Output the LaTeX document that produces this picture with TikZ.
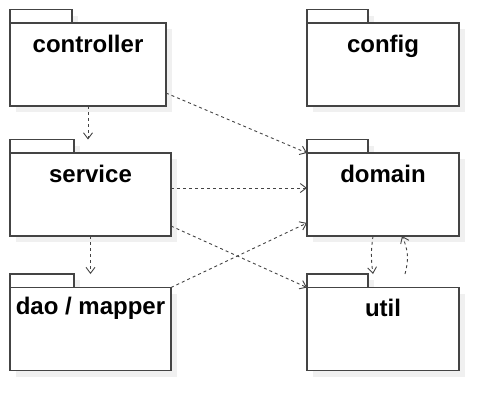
\documentclass[tikz,border=0pt]{standalone}
\usepackage{fontspec}
\setmainfont{Liberation Sans}
\usetikzlibrary{arrows.meta, positioning, shadows, calc}
\definecolor{pkgline}{RGB}{68,68,68}
\definecolor{pkgshadow}{RGB}{240,240,240}
\tikzset{
    pkg/.style={draw=pkgline, line width=1.4pt, fill=white, inner sep=0pt, outer sep=0pt,
        minimum height=83pt,
        drop shadow={shadow xshift=6pt, shadow yshift=-6pt, fill=pkgshadow, opacity=1}},
    pkgtab/.style={pkg, minimum height=13.5pt, anchor=south west},
    pkgname/.style={font=\bfseries\fontsize{24}{28}\selectfont, anchor=base, inner sep=0pt},
    dep/.style={draw=pkgline, line width=0.9pt, dash pattern=on 3pt off 3pt,
        -{Straight Barb[length=6pt,width=9pt]}}
}

\begin{document}
\begin{tikzpicture}[x=1pt, y=-1pt]
        \useasboundingbox (0,0) rectangle (499,410);

        \node[pkgtab, minimum width=62pt] (ctrltab) at (10,23) {};
        \node[pkg, minimum width=156pt, below right=0pt of ctrltab.south west] (ctrl) {};
        \node[pkgname] (ctrlname) at ([yshift=-29pt]ctrl.north) {controller};

        \node[pkgtab, minimum width=61pt] (cfgtab) at (307,23) {};
        \node[pkg, minimum width=152pt, below right=0pt of cfgtab.south west] (cfg) {};
        \node[pkgname] (cfgname) at ([yshift=-29pt]cfg.north) {config};

        \node[pkgtab, minimum width=64pt] (servtab) at (10,153) {};
        \node[pkg, minimum width=161pt, below right=0pt of servtab.south west] (serv) {};
        \node[pkgname] (servname) at ([yshift=-29pt]serv.north) {service};

        \node[pkgtab, minimum width=61pt] (domtab) at (307,153) {};
        \node[pkg, minimum width=152pt, below right=0pt of domtab.south west] (dom) {};
        \node[pkgname] (domname) at ([yshift=-29pt]dom.north) {domain};

        \node[pkgtab, minimum width=64pt] (daotab) at (10,287.5) {};
        \node[pkg, minimum width=161pt, below right=0pt of daotab.south west] (dao) {};
        \node[pkgname] (daoname) at ([yshift=-27pt]dao.north) {dao / mapper};

        \node[pkgtab, minimum width=61pt] (utiltab) at (307,287.5) {};
        \node[pkg, minimum width=152pt, below right=0pt of utiltab.south west] (util) {};
        \node[pkgname] (utilname) at ([yshift=-29pt]util.north) {util};

        \draw[dep] (ctrl.south) -- (ctrl.south |- servtab.north);
        \draw[dep] ([yshift=13pt]ctrl.south east) -- (dom.north west);
        \draw[dep] ([yshift=6.5pt]serv.east) -- ([yshift=6.5pt]dom.west);
        \draw[dep] ([yshift=10pt]serv.south east) -- (util.north west);
        \draw[dep] (dao.north east) -- ([yshift=13pt]dom.south west);
        \draw[dep] (serv.south) -- (serv.south |- daotab.north);
        \draw[dep] ([xshift=-10pt]dom.south) to[bend right=8] ([xshift=-10pt]dom.south |- utiltab.north);
        \draw[dep] ([xshift=22pt]dom.south |- utiltab.north) to[bend right=20] ([xshift=19pt]dom.south);
    \end{tikzpicture}
\end{document}
